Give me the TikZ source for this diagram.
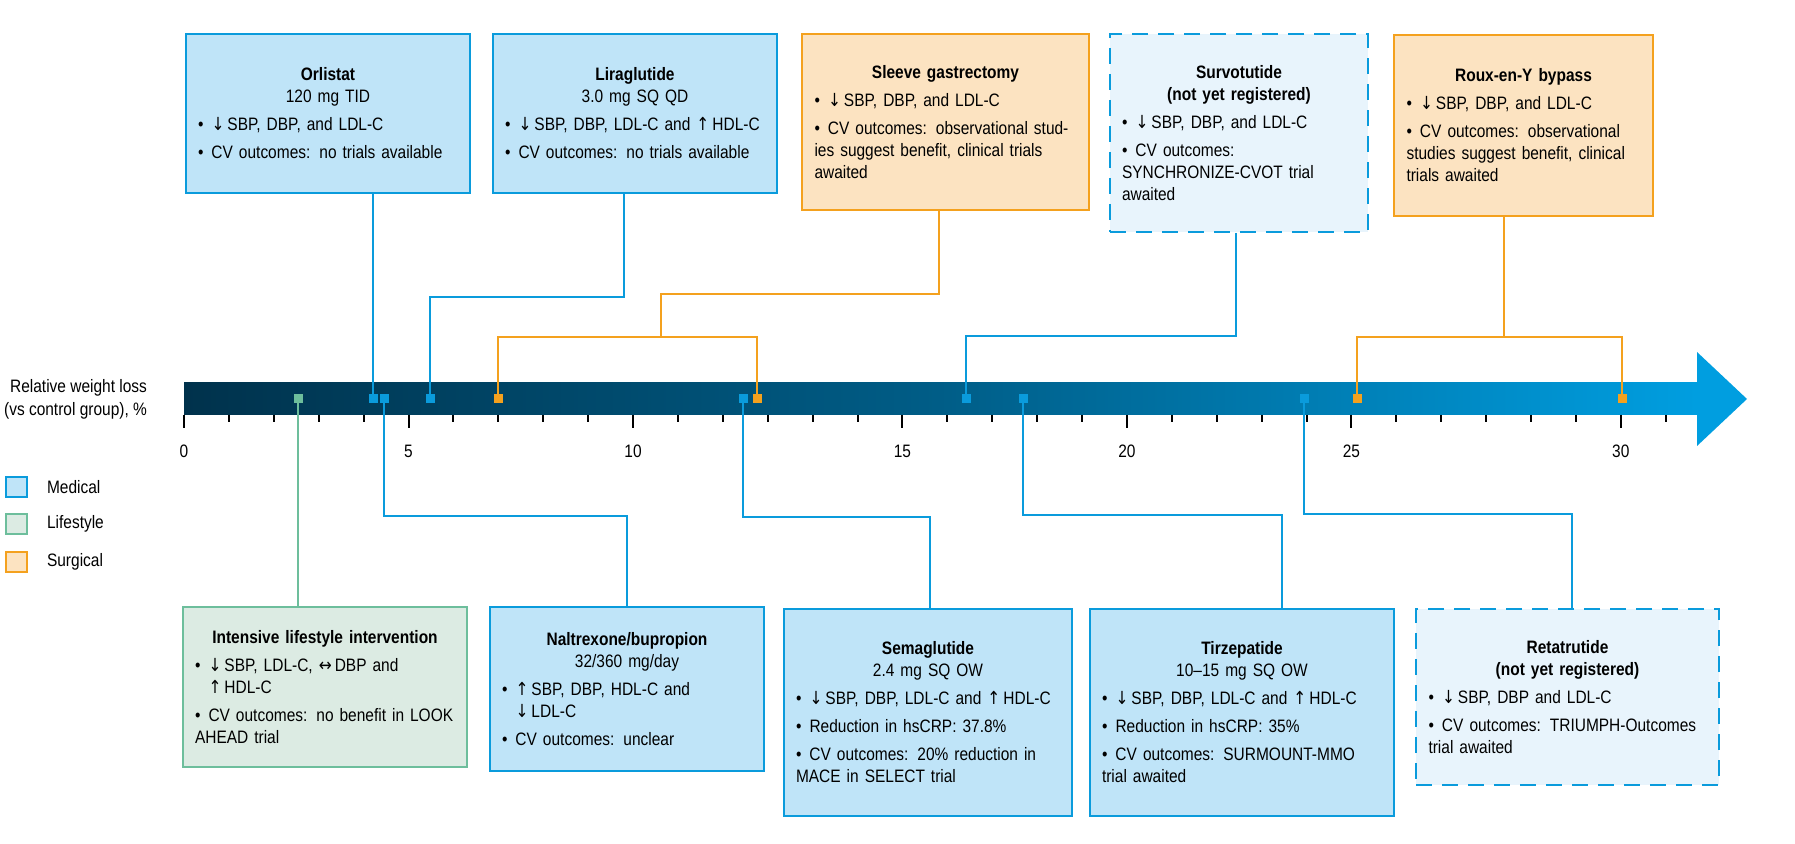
\documentclass[tikz,border=0pt]{standalone}
\usepackage{fontspec}
\setmainfont{Liberation Sans}[FakeStretch=0.86]
\newfontfamily\symfont{DejaVu Sans}[FakeStretch=0.86]
\usepackage{xcolor}
\usetikzlibrary{shapes.geometric, arrows}
\usetikzlibrary{positioning}
\definecolor{medline}{HTML}{0A9BDC}
\definecolor{medfill}{HTML}{BFE4F8}
\definecolor{newfill}{HTML}{E8F4FC}
\definecolor{lifline}{HTML}{6DBE9C}
\definecolor{liffill}{HTML}{DCEBE3}
\definecolor{surline}{HTML}{F4A11E}
\definecolor{surfill}{HTML}{FCE3C1}
\definecolor{bardark}{HTML}{00324C}
\definecolor{barlight}{HTML}{009EE0}
\newcommand{\arrdn}{{\symfont ↓}}
\newcommand{\arrup}{{\symfont ↑}}
\newcommand{\arrlr}{{\symfont ↔}}
\newcommand{\bl}[1]{\par\vspace{3pt}\raggedright\hangindent=0.75em\hangafter=1\noindent\makebox[0.75em][l]{\textbullet}#1}
\newcommand{\ttl}[1]{{\centering #1\par}}
\tikzstyle{box} = [rectangle, line width=1pt, inner sep=6pt, anchor=north west, font=\fontsize{9}{11}\selectfont]
\tikzstyle{med} = [box, draw=medline, fill=medfill]
\tikzstyle{new} = [box, draw=medline, fill=newfill, dash pattern=on 8pt off 5pt]
\tikzstyle{lif} = [box, draw=lifline, fill=liffill]
\tikzstyle{sur} = [box, draw=surline, fill=surfill]
\tikzstyle{mk} = [rectangle, minimum size=4.5pt, inner sep=0pt]
\tikzstyle{medcon} = [line width=1pt, draw=medline]
\tikzstyle{lifcon} = [line width=1pt, draw=lifline]
\tikzstyle{surcon} = [line width=1pt, draw=surline]
\tikzstyle{lgd} = [rectangle, line width=1pt, minimum width=10.5pt, minimum height=10pt, inner sep=0pt, anchor=north west]
\begin{document}
\begin{tikzpicture}[x=0.5pt, y=-0.5pt]
    \useasboundingbox (0,0) rectangle (1795,844);
    % axis
    \shade[left color=bardark, right color=barlight, middle color=bardark!60!barlight] (184,383) rectangle (1697,415);
    \fill[barlight] (1697,352) -- (1747,399) -- (1697,446) -- cycle;
    \foreach \k in {0,...,33}
        \draw[line width=1pt] (184+44.9*\k,415) -- (184+44.9*\k,422);
    \foreach \k/\v in {0/0,5/5,10/10,16/15,21/20,26/25,32/30} {
        \draw[line width=1pt] (184+44.9*\k,415) -- (184+44.9*\k,428);
        \node[font=\fontsize{9}{11}\selectfont] (t\v) at (184+44.9*\k,451) {\v};
    }
    \node (axlab) [anchor=east, align=right, font=\fontsize{9}{11.5}\selectfont] at (154,399) {Relative weight loss\\(vs control group), \%};
    % legend
    \node (lg1) [lgd, draw=medline, fill=medfill] at (5,476) {};
    \node (lg2) [lgd, draw=lifline, fill=liffill] at (5,513) {};
    \node (lg3) [lgd, draw=surline, fill=surfill] at (5,551) {};
    \node [right=6pt of lg1, font=\fontsize{9}{11}\selectfont] {Medical};
    \node [right=6pt of lg2, font=\fontsize{9}{11}\selectfont] {Lifestyle};
    \node [right=6pt of lg3, font=\fontsize{9}{11}\selectfont] {Surgical};
    % top boxes
    \node (orl) [med, minimum width=142pt, minimum height=79.5pt, text width=130pt] at (185,33)
        {\ttl{\textbf{Orlistat}\\120 mg TID}\bl{\arrdn\,SBP, DBP, and LDL-C}\bl{CV outcomes: no trials available}};
    \node (lir) [med, minimum width=142pt, minimum height=79.5pt, text width=130pt] at (492,33)
        {\ttl{\textbf{Liraglutide}\\3.0 mg SQ QD}\bl{\arrdn\,SBP, DBP, LDL-C and \arrup\,HDL-C}\bl{CV outcomes: no trials available}};
    \node (slv) [sur, minimum width=143.5pt, minimum height=88pt, text width=131pt] at (801,33)
        {\ttl{\textbf{Sleeve gastrectomy}}\bl{\arrdn\,SBP, DBP, and LDL-C}\bl{CV outcomes: observational studies suggest benefit, clinical trials awaited}};
    \node (srv) [new, minimum width=129pt, minimum height=99pt, text width=117pt] at (1109,33)
        {\ttl{\textbf{Survotutide}\\\textbf{(not yet registered)}}\bl{\arrdn\,SBP, DBP, and LDL-C}\bl{CV outcomes: SYNCHRONIZE-CVOT trial awaited}};
    \node (rny) [sur, minimum width=129.5pt, minimum height=90.5pt, text width=117pt] at (1393,34)
        {\ttl{\textbf{Roux-en-Y bypass}}\bl{\arrdn\,SBP, DBP, and LDL-C}\bl{CV outcomes: observational studies suggest benefit, clinical trials awaited}};
    % bottom boxes
    \node (lif) [lif, minimum width=142pt, minimum height=80pt, text width=130pt] at (182,606)
        {\ttl{\textbf{Intensive lifestyle intervention}}\bl{\arrdn\,SBP, LDL-C, \arrlr\,DBP and \arrup\,HDL-C}\bl{CV outcomes: no benefit in LOOK AHEAD trial}};
    \node (nal) [med, minimum width=137pt, minimum height=82pt, text width=125pt] at (489,606)
        {\ttl{\textbf{Naltrexone/bupropion}\\32/360 mg/day}\bl{\arrup\,SBP, DBP, HDL-C and \arrdn\,LDL-C}\bl{CV outcomes: unclear}};
    \node (sem) [med, minimum width=144pt, minimum height=103.5pt, text width=132pt] at (783,608)
        {\ttl{\textbf{Semaglutide}\\2.4 mg SQ OW}\bl{\arrdn\,SBP, DBP, LDL-C and \arrup\,HDL-C}\bl{Reduction in hsCRP: 37.8\%}\bl{CV outcomes: 20\% reduction in MACE in SELECT trial}};
    \node (tir) [med, minimum width=152pt, minimum height=103.5pt, text width=140pt] at (1089,608)
        {\ttl{\textbf{Tirzepatide}\\10--15 mg SQ OW}\bl{\arrdn\,SBP, DBP, LDL-C and \arrup\,HDL-C}\bl{Reduction in hsCRP: 35\%}\bl{CV outcomes: SURMOUNT-MMO trial awaited}};
    \node (ret) [new, minimum width=151.5pt, minimum height=88pt, text width=139pt] at (1415,608)
        {\ttl{\textbf{Retatrutide}\\\textbf{(not yet registered)}}\bl{\arrdn\,SBP, DBP and LDL-C}\bl{CV outcomes: TRIUMPH-Outcomes trial awaited}};
    % connectors
    \draw [medcon] (orl.south -| 373,0) -- (373,399);
    \draw [medcon] (lir.south -| 624,0) |- (430,297) -- (430,399);
    \draw [surcon] (slv.south -| 939,0) |- (661,294) -- (661,337);
    \draw [surcon] (498,399) |- (757,337) -- (757,399);
    \draw [medcon] (srv.south -| 1236,0) |- (966,336) -- (966,399);
    \draw [surcon] (rny.south -| 1504,0) -- (1504,337);
    \draw [surcon] (1357,399) |- (1622,337) -- (1622,399);
    \draw [lifcon] (298,399) -- (lif.north -| 298,0);
    \draw [medcon] (384,399) |- (627,516) -- (nal.north -| 627,0);
    \draw [medcon] (743,399) |- (930,517) -- (sem.north -| 930,0);
    \draw [medcon] (1023,399) |- (1282,515) -- (tir.north -| 1282,0);
    \draw [medcon] (1304,399) |- (1572,514) -- (ret.north -| 1572,0);
    % markers
    \node (mLif) [mk, fill=lifline] at (298,399) {};
    \node (mOrl) [mk, fill=medline] at (373,399) {};
    \node (mNal) [mk, fill=medline] at (384,399) {};
    \node (mLir) [mk, fill=medline] at (430,399) {};
    \node (mSlA) [mk, fill=surline] at (498,399) {};
    \node (mSem) [mk, fill=medline] at (743,399) {};
    \node (mSlB) [mk, fill=surline] at (757,399) {};
    \node (mSrv) [mk, fill=medline] at (966,399) {};
    \node (mTir) [mk, fill=medline] at (1023,399) {};
    \node (mRet) [mk, fill=medline] at (1304,399) {};
    \node (mRnA) [mk, fill=surline] at (1357,399) {};
    \node (mRnB) [mk, fill=surline] at (1622,399) {};
\end{tikzpicture}
\end{document}
